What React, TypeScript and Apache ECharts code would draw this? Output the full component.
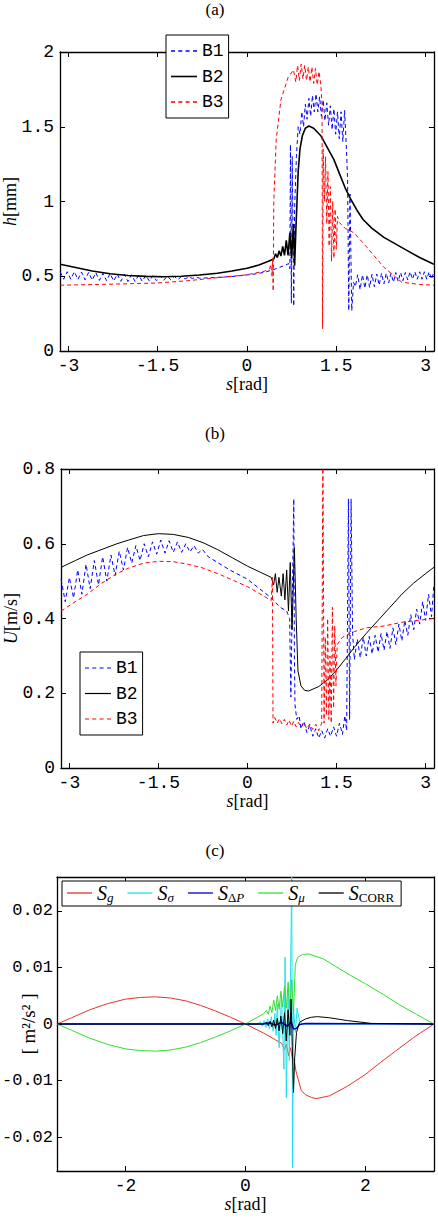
import React, { useEffect, useRef } from "react";
import * as echarts from "echarts";

type P = [number, number];

// ---------- Panel (a): h [mm] ----------
const hB1: P[] = [
  [-3.14, 0.53], [-3.08, 0.48], [-3.02, 0.53], [-2.96, 0.48], [-2.9, 0.53], [-2.84, 0.478], [-2.78, 0.528], [-2.72, 0.476],
  [-2.66, 0.526], [-2.6, 0.474], [-2.54, 0.524], [-2.48, 0.472], [-2.42, 0.52], [-2.36, 0.47], [-2.3, 0.518], [-2.24, 0.468],
  [-2.18, 0.515], [-2.12, 0.466], [-2.06, 0.512], [-2.0, 0.465], [-1.94, 0.51], [-1.88, 0.465], [-1.82, 0.508], [-1.76, 0.466],
  [-1.7, 0.506], [-1.64, 0.468], [-1.58, 0.504], [-1.52, 0.47], [-1.46, 0.502], [-1.4, 0.473], [-1.34, 0.5], [-1.28, 0.476],
  [-1.22, 0.499], [-1.16, 0.479], [-1.1, 0.498], [-1.04, 0.482], [-0.98, 0.496], [-0.92, 0.485], [-0.86, 0.494], [-0.8, 0.487],
  [-0.5, 0.492], [-0.2, 0.5], [0.1, 0.513], [0.3, 0.527], [0.45, 0.545], [0.55, 0.56], [0.65, 0.575], [0.7, 0.585],
  [0.72, 0.55], [0.73, 1.38], [0.745, 0.32], [0.76, 1.3], [0.785, 0.3], [0.8, 0.95], [0.83, 1.3], [0.86, 1.5],
  [0.89, 1.45], [0.92, 1.6], [0.95, 1.5], [0.98, 1.65], [1.01, 1.55], [1.04, 1.69], [1.07, 1.57], [1.1, 1.71],
  [1.13, 1.6], [1.16, 1.72], [1.19, 1.6], [1.22, 1.7], [1.25, 1.57], [1.28, 1.68], [1.31, 1.54], [1.34, 1.66],
  [1.37, 1.51], [1.4, 1.64], [1.43, 1.48], [1.46, 1.62], [1.49, 1.45], [1.52, 1.6], [1.55, 1.42], [1.58, 1.6],
  [1.61, 1.4], [1.64, 1.61], [1.67, 1.35], [1.69, 1.15], [1.71, 0.27], [1.73, 1.05], [1.76, 0.27], [1.79, 0.46],
  [1.82, 0.43], [1.86, 0.51], [1.9, 0.41], [1.94, 0.51], [1.98, 0.42], [2.02, 0.51], [2.06, 0.425], [2.1, 0.515],
  [2.14, 0.43], [2.18, 0.515], [2.22, 0.44], [2.26, 0.52], [2.3, 0.45], [2.34, 0.52], [2.38, 0.455], [2.42, 0.52],
  [2.46, 0.46], [2.5, 0.525], [2.54, 0.465], [2.58, 0.525], [2.62, 0.47], [2.66, 0.525], [2.7, 0.475], [2.74, 0.53],
  [2.78, 0.48], [2.82, 0.53], [2.86, 0.48], [2.9, 0.53], [2.94, 0.48], [2.98, 0.53], [3.02, 0.48], [3.06, 0.53],
  [3.1, 0.48], [3.14, 0.53],
];
const hB2: P[] = [
  [-3.14, 0.58], [-2.9, 0.56], [-2.6, 0.535], [-2.3, 0.517], [-2.0, 0.505], [-1.7, 0.499], [-1.4, 0.497], [-1.1, 0.5],
  [-0.8, 0.508], [-0.5, 0.52], [-0.25, 0.535], [0, 0.553], [0.2, 0.575], [0.35, 0.598], [0.45, 0.615], [0.48, 0.65],
  [0.51, 0.625], [0.54, 0.67], [0.57, 0.635], [0.6, 0.7], [0.63, 0.64], [0.66, 0.74], [0.69, 0.64], [0.72, 0.79],
  [0.75, 0.62], [0.78, 0.85], [0.8, 0.57], [0.82, 0.8], [0.84, 1.0], [0.86, 1.2], [0.89, 1.35], [0.93, 1.44],
  [0.98, 1.49], [1.04, 1.505], [1.12, 1.49], [1.24, 1.44], [1.35, 1.36], [1.46, 1.28], [1.55, 1.19], [1.65, 1.09],
  [1.75, 1.01], [1.85, 0.94], [1.95, 0.88], [2.1, 0.82], [2.3, 0.76], [2.5, 0.715], [2.7, 0.67], [2.9, 0.625],
  [3.14, 0.58],
];
const hB3: P[] = [
  [-3.14, 0.44], [-2.5, 0.445], [-2.0, 0.45], [-1.5, 0.455], [-1.0, 0.47], [-0.5, 0.49], [0, 0.51], [0.3, 0.535],
  [0.38, 0.55], [0.4, 0.58], [0.42, 0.5], [0.43, 0.62], [0.44, 0.4], [0.45, 1.0], [0.49, 1.41], [0.57, 1.68],
  [0.69, 1.83], [0.78, 1.88], [0.82, 1.8], [0.85, 1.91], [0.88, 1.81], [0.91, 1.92], [0.94, 1.82], [0.97, 1.91],
  [1.0, 1.81], [1.03, 1.9], [1.06, 1.8], [1.09, 1.9], [1.12, 1.79], [1.15, 1.89], [1.18, 1.78], [1.21, 1.87],
  [1.24, 1.78], [1.26, 1.65], [1.27, 0.15], [1.28, 1.35], [1.3, 1.0], [1.32, 1.3], [1.34, 0.85], [1.36, 1.2],
  [1.38, 0.7], [1.4, 1.1], [1.42, 0.6], [1.44, 1.0], [1.46, 0.62], [1.48, 0.95], [1.5, 0.68], [1.52, 0.9],
  [1.55, 0.86], [1.65, 0.82], [1.8, 0.79], [2.0, 0.7], [2.3, 0.56], [2.6, 0.46], [2.9, 0.445], [3.14, 0.44],
];

// ---------- Panel (b): U [m/s] ----------
const uB1: P[] = [
  [-3.14, 0.505], [-3.07, 0.445], [-3.0, 0.51], [-2.93, 0.455], [-2.86, 0.53], [-2.79, 0.465], [-2.72, 0.545], [-2.65, 0.48],
  [-2.58, 0.555], [-2.51, 0.49], [-2.44, 0.565], [-2.37, 0.5], [-2.3, 0.57], [-2.23, 0.515], [-2.16, 0.58], [-2.09, 0.53],
  [-2.02, 0.59], [-1.95, 0.548], [-1.88, 0.595], [-1.81, 0.555], [-1.74, 0.6], [-1.67, 0.565], [-1.6, 0.605], [-1.53, 0.572],
  [-1.46, 0.61], [-1.39, 0.575], [-1.32, 0.608], [-1.25, 0.577], [-1.18, 0.605], [-1.11, 0.577], [-1.04, 0.6], [-0.97, 0.578],
  [-0.9, 0.595], [-0.83, 0.575], [-0.76, 0.585], [-0.66, 0.565], [-0.3, 0.53], [0.0, 0.505], [0.4, 0.455], [0.55, 0.43],
  [0.66, 0.42], [0.71, 0.4], [0.73, 0.19], [0.75, 0.4], [0.78, 0.72], [0.79, 0.3], [0.8, 0.17], [0.83, 0.13],
  [0.87, 0.14], [0.9, 0.105], [0.95, 0.125], [1.0, 0.095], [1.05, 0.115], [1.1, 0.085], [1.15, 0.105], [1.2, 0.08],
  [1.25, 0.1], [1.3, 0.08], [1.35, 0.105], [1.4, 0.085], [1.45, 0.11], [1.5, 0.085], [1.55, 0.12], [1.6, 0.09],
  [1.64, 0.14], [1.67, 0.1], [1.7, 0.72], [1.72, 0.13], [1.745, 0.72], [1.77, 0.36], [1.8, 0.29], [1.85, 0.345],
  [1.9, 0.295], [1.95, 0.35], [2.0, 0.3], [2.05, 0.352], [2.1, 0.305], [2.15, 0.355], [2.2, 0.31], [2.25, 0.36],
  [2.3, 0.315], [2.35, 0.365], [2.4, 0.32], [2.45, 0.375], [2.5, 0.33], [2.55, 0.385], [2.6, 0.34], [2.65, 0.395],
  [2.7, 0.355], [2.75, 0.41], [2.8, 0.37], [2.85, 0.425], [2.9, 0.385], [2.95, 0.445], [3.0, 0.395], [3.05, 0.465],
  [3.1, 0.405], [3.14, 0.49],
];
const uB2: P[] = [
  [-3.14, 0.537], [-2.9, 0.555], [-2.7, 0.57], [-2.45, 0.585], [-2.2, 0.6], [-2.0, 0.61], [-1.75, 0.622], [-1.5, 0.627],
  [-1.25, 0.625], [-1.0, 0.617], [-0.75, 0.603], [-0.5, 0.584], [-0.25, 0.562], [0, 0.54], [0.2, 0.525], [0.4, 0.51],
  [0.44, 0.49], [0.47, 0.52], [0.5, 0.47], [0.53, 0.51], [0.57, 0.46], [0.6, 0.52], [0.63, 0.45], [0.66, 0.53],
  [0.69, 0.42], [0.72, 0.55], [0.75, 0.37], [0.79, 0.59], [0.82, 0.4], [0.85, 0.26], [0.9, 0.22], [0.96, 0.208],
  [1.03, 0.206], [1.2, 0.218], [1.35, 0.236], [1.5, 0.262], [1.65, 0.292], [1.8, 0.323], [2.0, 0.36], [2.2, 0.395],
  [2.4, 0.43], [2.6, 0.465], [2.8, 0.495], [3.0, 0.52], [3.14, 0.537],
];
const uB3: P[] = [
  [-3.14, 0.42], [-2.9, 0.445], [-2.7, 0.465], [-2.45, 0.495], [-2.2, 0.52], [-2.0, 0.535], [-1.75, 0.548], [-1.5, 0.553],
  [-1.25, 0.552], [-1.0, 0.545], [-0.75, 0.535], [-0.5, 0.52], [-0.25, 0.503], [0, 0.485], [0.2, 0.467], [0.4, 0.448],
  [0.42, 0.51], [0.43, 0.12], [0.46, 0.135], [0.5, 0.12], [0.54, 0.132], [0.58, 0.118], [0.62, 0.13], [0.66, 0.115],
  [0.7, 0.128], [0.74, 0.112], [0.78, 0.125], [0.82, 0.11], [0.86, 0.122], [0.9, 0.108], [0.95, 0.12], [1.0, 0.105],
  [1.05, 0.118], [1.1, 0.103], [1.15, 0.117], [1.2, 0.1], [1.25, 0.12], [1.27, 0.85], [1.29, 0.12], [1.31, 0.35],
  [1.33, 0.14], [1.35, 0.4], [1.37, 0.13], [1.39, 0.3], [1.41, 0.12], [1.43, 0.43], [1.45, 0.16], [1.47, 0.38],
  [1.49, 0.22], [1.51, 0.33], [1.6, 0.35], [1.8, 0.365], [2.0, 0.375], [2.3, 0.38], [2.6, 0.39], [2.87, 0.395],
  [3.14, 0.4],
];

// ---------- Panel (c): source terms [m^2/s^2] ----------
const sG: P[] = [
  [-3.14, 0], [-2.9, 0.0011], [-2.6, 0.0025], [-2.3, 0.0036], [-2.0, 0.0044], [-1.75, 0.0047], [-1.5, 0.0048],
  [-1.25, 0.0046], [-1.0, 0.0041], [-0.75, 0.0033], [-0.5, 0.0023], [-0.25, 0.0012], [0, 0], [0.3, -0.0016],
  [0.5, -0.0028], [0.6, -0.0034], [0.65, -0.0045], [0.68, -0.0036], [0.72, -0.0056], [0.75, -0.0042], [0.78, -0.006],
  [0.81, -0.0062], [0.84, -0.0083], [0.93, -0.0118], [1.0, -0.0125], [1.1, -0.013], [1.18, -0.0132], [1.4, -0.0127],
  [1.7, -0.011], [2.0, -0.0089], [2.25, -0.0068], [2.5, -0.0048], [2.8, -0.0024], [3.14, 0],
];
const sSigma: P[] = [
  [-3.14, 0], [0.2, 0], [0.25, 0.0004], [0.28, -0.0004], [0.31, 0.0006], [0.34, -0.0006], [0.37, 0.0009], [0.4, -0.0009],
  [0.43, 0.0013], [0.46, -0.0013], [0.49, 0.0019], [0.51, -0.002], [0.53, 0.0035], [0.56, -0.0042], [0.6, 0.0049],
  [0.64, -0.008], [0.66, 0.0118], [0.68, -0.013], [0.71, 0.006], [0.73, -0.0065], [0.75, 0.008], [0.77, 0.026],
  [0.785, -0.0254], [0.8, 0.003], [0.83, -0.0015], [0.86, 0.0028], [0.9, 0.0005], [0.95, 0], [3.14, 0],
];
const sDP: P[] = [
  [-3.14, 0], [0.3, 0], [0.4, 0.0002], [0.5, -0.0002], [0.6, 0.0003], [0.7, -0.0004], [0.76, 0.0004], [0.8, -0.0009],
  [0.85, -0.0008], [0.9, -0.0001], [1.0, 0.0001], [3.14, 0],
];
const sMu: P[] = [
  [-3.14, 0], [-2.9, -0.0011], [-2.6, -0.0025], [-2.3, -0.0036], [-2.0, -0.0044], [-1.75, -0.0047], [-1.5, -0.0048],
  [-1.25, -0.0046], [-1.0, -0.0041], [-0.75, -0.0033], [-0.5, -0.0023], [-0.25, -0.0012], [0, 0], [0.2, 0.0012],
  [0.3, 0.0018], [0.35, 0.0024], [0.38, 0.0017], [0.41, 0.0032], [0.44, 0.002], [0.47, 0.0042], [0.5, 0.0024],
  [0.53, 0.005], [0.56, 0.0026], [0.59, 0.0058], [0.62, 0.003], [0.65, 0.0066], [0.68, 0.0028], [0.71, 0.0074],
  [0.74, 0.0025], [0.77, 0.0078], [0.8, 0.002], [0.83, 0.0105], [0.87, 0.0118], [0.95, 0.0123], [1.05, 0.0124],
  [1.3, 0.0115], [1.5, 0.0102], [1.75, 0.0086], [2.0, 0.0071], [2.3, 0.0052], [2.55, 0.0035], [2.85, 0.0017], [3.14, 0],
];
const sCorr: P[] = [
  [-3.14, 0], [0.3, 0], [0.35, 0.0003], [0.38, -0.0003], [0.41, 0.0005], [0.44, -0.0005], [0.47, 0.0007], [0.5, -0.0008],
  [0.53, 0.001], [0.56, -0.0012], [0.59, 0.0014], [0.62, -0.0017], [0.65, 0.002], [0.68, -0.003], [0.71, 0.0025],
  [0.74, -0.002], [0.76, 0.0044], [0.78, -0.004], [0.8, -0.0121], [0.82, -0.006], [0.85, -0.0015], [0.9, 0.0003],
  [1.0, 0.0009], [1.1, 0.0012], [1.2, 0.0013], [1.4, 0.0011], [1.7, 0.0006], [2.1, 0.0001], [3.14, 0],
];

// ---------- ticks ----------
const xTicksAB = [-3, -1.5, 0, 1.5, 3];
const xTicksC = [-2, 0, 2];
const yTicksA = [0, 0.5, 1, 1.5, 2];
const yTicksB = [0, 0.2, 0.4, 0.6, 0.8];
const yTicksC = [-0.02, -0.01, 0, 0.01, 0.02];

const MONO = "Liberation Mono";
const SERIF = "Liberation Serif";
const LINE_COLOR = "#000";

const DASH_ICON = "path://M0,0h4v1h-4zM7.3,0h4v1h-4zM14.6,0h4v1h-4zM22,0h4v1h-4z";
const SOLID_ICON = "path://M0,0h26v1h-26z";

function xAxes(gi: number, ticks: number[], name: string) {
  const common = {
    type: "value",
    gridIndex: gi,
    min: -Math.PI,
    max: Math.PI,
    splitLine: { show: false },
    axisLine: { show: true, onZero: false, lineStyle: { color: LINE_COLOR, width: 1.3 } },
    axisTick: { show: true, inside: true, length: 5, customValues: ticks, lineStyle: { color: LINE_COLOR, width: 1 } },
  };
  return [
    {
      ...common,
      position: "bottom",
      axisLabel: {
        show: true,
        customValues: ticks,
        formatter: (v: number) => String(v),
        margin: 6,
        color: "#000",
        fontFamily: MONO,
        fontSize: 18,
      },
      name,
      nameLocation: "middle",
      nameGap: 24,
      nameMoveOverlap: false,
      nameTextStyle: {
        color: "#000",
        fontFamily: SERIF,
        fontSize: 18,
        rich: { i: { fontFamily: SERIF, fontStyle: "italic", fontSize: 18, color: "#000" } },
      },
    },
    { ...common, position: "top", axisLabel: { show: false } },
  ];
}

function yAxes(
  gi: number,
  ticks: number[],
  min: number,
  max: number,
  name: string,
  nameGap: number,
  labelSize: number,
  labelMargin: number,
  nameSize: number
) {
  const common = {
    type: "value",
    gridIndex: gi,
    min,
    max,
    splitLine: { show: false },
    axisLine: { show: true, onZero: false, lineStyle: { color: LINE_COLOR, width: 1.3 } },
    axisTick: { show: true, inside: true, length: 5, customValues: ticks, lineStyle: { color: LINE_COLOR, width: 1 } },
  };
  return [
    {
      ...common,
      position: "left",
      axisLabel: {
        show: true,
        customValues: ticks,
        formatter: (v: number) => String(v),
        margin: labelMargin,
        color: "#000",
        fontFamily: MONO,
        fontSize: labelSize,
      },
      name,
      nameLocation: "middle",
      nameRotate: 90,
      nameGap,
      nameMoveOverlap: false,
      nameTextStyle: {
        color: "#000",
        fontFamily: SERIF,
        fontSize: nameSize,
        rich: { i: { fontFamily: SERIF, fontStyle: "italic", fontSize: nameSize, color: "#000" } },
      },
    },
    { ...common, position: "right", axisLabel: { show: false } },
  ];
}

function line(data: P[], gi: number, name: string, color: string, width: number, dashed: boolean) {
  return {
    type: "line",
    name,
    xAxisIndex: gi * 2,
    yAxisIndex: gi * 2,
    data,
    symbol: "none",
    showSymbol: false,
    clip: true,
    lineStyle: { color, width, type: dashed ? [4, 3] : "solid" },
    itemStyle: { color },
    emphasis: { disabled: true },
  };
}

const BLUE = "#0000ff";
const RED = "#ff0000";
const BLACK = "#000000";

const legendNames: Record<string, string> = {
  Sg: "{s|S}{sub|g}",
  Ssigma: "{s|S}{sub|σ}",
  SdP: "{s|S}{subu|Δ}{sub|P}",
  Smu: "{s|S}{sub|μ}",
  Scorr: "{s|S}{subu|CORR}",
};

const boxLegend = {
  orient: "vertical",
  itemWidth: 26,
  itemGap: 5.5,
  padding: [6, 5, 6, 5],
  borderColor: "#000",
  borderWidth: 1,
  borderRadius: 0,
  backgroundColor: "#fff",
  selectedMode: false,
  symbolKeepAspect: false,
  textStyle: { fontFamily: MONO, fontSize: 18, color: "#000", lineHeight: 20 },
};

const option: any = {
  animation: false,
  backgroundColor: "#fff",
  grid: [
    { left: 60, top: 52, width: 374, height: 299, outerBoundsMode: "none" },
    { left: 61, top: 469, width: 373, height: 299, outerBoundsMode: "none" },
    { left: 57, top: 877, width: 377, height: 294, outerBoundsMode: "none" },
  ],
  xAxis: [
    ...xAxes(0, xTicksAB, "{i|s}[rad]"),
    ...xAxes(1, xTicksAB, "{i|s}[rad]"),
    ...xAxes(2, xTicksC, "{i|s}[rad]"),
  ],
  yAxis: [
    ...yAxes(0, yTicksA, 0, 2, "{i|h}[mm]", 41, 18, 6, 18),
    ...yAxes(1, yTicksB, 0, 0.8, "{i|U}[m/s]", 41, 18, 6, 18),
    ...yAxes(2, yTicksC, -0.026, 0.026, "[ m²/s² ]", 19, 17, 4, 19),
  ],
  legend: [
    {
      ...boxLegend,
      left: 166,
      top: 35,
      itemHeight: 1.6,
      data: [
        { name: "B1", icon: DASH_ICON },
        { name: "B2", icon: SOLID_ICON },
        { name: "B3", icon: DASH_ICON },
      ],
    },
    {
      ...boxLegend,
      left: 80,
      top: 652,
      itemHeight: 1.2,
      formatter: (n: string) => n.slice(0, 2),
      data: [
        { name: "B1b", icon: DASH_ICON },
        { name: "B2b", icon: SOLID_ICON },
        { name: "B3b", icon: DASH_ICON },
      ],
    },
    {
      data: ["Sg", "Ssigma", "SdP", "Smu", "Scorr"].map((n) => ({ name: n, icon: SOLID_ICON })),
      orient: "horizontal",
      left: 62,
      top: 881,
      itemWidth: 25,
      itemHeight: 1.3,
      itemGap: 14,
      padding: [2, 7, 2, 5],
      borderColor: "#000",
      borderWidth: 1,
      borderRadius: 0,
      backgroundColor: "#fff",
      selectedMode: false,
      symbolKeepAspect: false,
      formatter: (n: string) => legendNames[n] || n,
      textStyle: {
        color: "#000",
        fontFamily: SERIF,
        fontSize: 19,
        rich: {
          s: { fontFamily: SERIF, fontStyle: "italic", fontSize: 20, lineHeight: 22, color: "#000" },
          sub: { fontFamily: SERIF, fontStyle: "italic", fontSize: 13, lineHeight: 12, verticalAlign: "bottom", color: "#000" },
          subu: { fontFamily: SERIF, fontSize: 13, lineHeight: 12, verticalAlign: "bottom", color: "#000" },
        },
      },
    },
  ],
  graphic: [
    { type: "text", x: 215, y: 9, style: { text: "(a)", font: `17px "${SERIF}"`, fill: "#000", align: "center", verticalAlign: "middle" } },
    { type: "text", x: 215, y: 433, style: { text: "(b)", font: `17px "${SERIF}"`, fill: "#000", align: "center", verticalAlign: "middle" } },
    { type: "text", x: 215, y: 850, style: { text: "(c)", font: `17px "${SERIF}"`, fill: "#000", align: "center", verticalAlign: "middle" } },
  ],
  series: [
    line(hB1, 0, "B1", BLUE, 1, true),
    line(hB2, 0, "B2", BLACK, 1.6, false),
    line(hB3, 0, "B3", RED, 1, true),
    line(uB1, 1, "B1b", BLUE, 1, true),
    line(uB2, 1, "B2b", BLACK, 1, false),
    line(uB3, 1, "B3b", RED, 1, true),
    line(sG, 2, "Sg", "#e8312a", 1, false),
    line(sSigma, 2, "Ssigma", "#22e0ea", 1, false),
    line(sDP, 2, "SdP", "#0000c8", 1.6, false),
    line(sMu, 2, "Smu", "#33dd33", 1, false),
    line(sCorr, 2, "Scorr", BLACK, 1, false),
  ],
};

export default function App() {
  const ref = useRef<HTMLDivElement>(null);
  useEffect(() => {
    if (!ref.current) return;
    const chart = echarts.init(ref.current, null, { renderer: "svg" });
    chart.setOption(option);
    return () => chart.dispose();
  }, []);
  return (
    <div
      ref={ref}
      style={{ position: "absolute", left: 0, top: 0, width: 438, height: 1220, background: "#fff" }}
    />
  );
}
